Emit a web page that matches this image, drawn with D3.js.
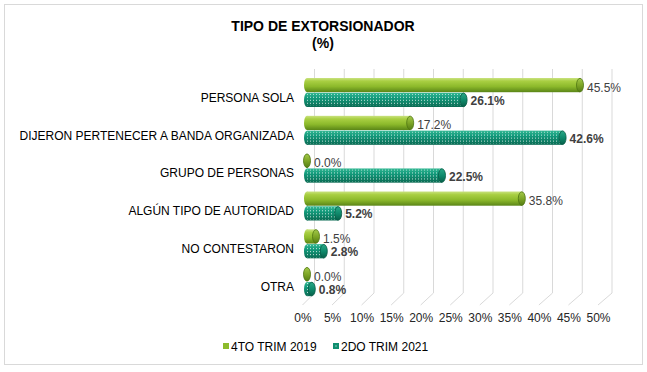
<!DOCTYPE html>
<html>
<head>
<meta charset="utf-8">
<script src="https://cdn.jsdelivr.net/npm/d3@7"></script>
<style>
  body { margin: 0; background: #fff; }
  text { font-family: "Liberation Sans", Arial, sans-serif; }
</style>
</head>
<body>
<svg id="chart" width="647" height="372"></svg>
<script>
// chart data
var categories = ["PERSONA SOLA", "DIJERON PERTENECER A BANDA ORGANIZADA", "GRUPO DE PERSONAS",
                  "ALGÚN TIPO DE AUTORIDAD", "NO CONTESTARON", "OTRA"];
var series = ["4TO TRIM 2019", "2DO TRIM 2021"];
var values2019 = [45.5, 17.2, 0.0, 35.8, 1.5, 0.0];
var values2021 = [26.1, 42.6, 22.5, 5.2, 2.8, 0.8];
var tickValues = [0, 5, 10, 15, 20, 25, 30, 35, 40, 45, 50];

var svg = d3.select("#chart");

// outer frame
svg.append("rect").attr("x", 4.5).attr("y", 4.5).attr("width", 638).attr("height", 360)
    .attr("fill", "#fff").attr("stroke", "#d9d9d9");

// title
svg.append("text").attr("x", 323).attr("y", 31).attr("text-anchor", "middle")
    .style("font-size", "14px").style("font-weight", "bold").text("TIPO DE EXTORSIONADOR");
svg.append("text").attr("x", 323).attr("y", 48).attr("text-anchor", "middle")
    .style("font-size", "14px").style("font-weight", "bold").text("(%)");

// scales: bars sit between the back wall and the front edge
var x = d3.scaleLinear().domain([0, 50]).range([307, 607]);
var xFront = d3.scaleLinear().domain([0, 50]).range([302.5, 598]);
var xBack = d3.scaleLinear().domain([0, 50]).range([314.5, 612]);
var y = d3.scaleBand().domain(categories).range([73.5, 300.5]);
var ySer = d3.scaleBand().domain(series).range([4.5, 33.5]).paddingInner(0.04);
var wallTop = 69, wallBottom = 293, frontY = 305;

// gradients / patterns
var defs = svg.append("defs");
function vGrad(id, stops) {
    var g = defs.append("linearGradient").attr("id", id)
        .attr("x1", 0).attr("y1", 0).attr("x2", 0).attr("y2", 1);
    stops.forEach(function(s) { g.append("stop").attr("offset", s[0]).attr("stop-color", s[1]); });
}
vGrad("gGreen", [["0%", "#c9e27f"], ["22%", "#a9cf42"], ["60%", "#8cb92b"], ["100%", "#5a8517"]]);
vGrad("gGreenCap", [["0%", "#a3c94a"], ["50%", "#7ea626"], ["100%", "#557d14"]]);
vGrad("gTeal", [["0%", "#34b894"], ["35%", "#139b7c"], ["100%", "#0a6b53"]]);
vGrad("gTealCap", [["0%", "#2aa887"], ["50%", "#0f8a6c"], ["100%", "#08604a"]]);

var pat = defs.append("pattern").attr("id", "dots").attr("patternUnits", "userSpaceOnUse")
    .attr("width", 3).attr("height", 3);
pat.append("rect").attr("x", 1).attr("y", 1).attr("width", 1).attr("height", 1)
    .attr("fill", "#ffffff").attr("opacity", 0.75);

// back wall gridlines + floor lines
var grid = svg.append("g");
tickValues.forEach(function(t) {
    grid.append("polyline")
        .attr("points", xBack(t) + "," + wallTop + " " + xBack(t) + "," + wallBottom + " " +
                        xFront(t) + "," + frontY)
        .attr("fill", "none").attr("stroke", "#d9d9d9").attr("stroke-width", 1);
});

// x axis tick labels
var xAxis = svg.append("g").attr("transform", "translate(0," + frontY + ")")
    .call(d3.axisBottom(xFront).tickValues(tickValues).tickSize(0).tickPadding(8)
        .tickFormat(function(d) { return d + "%"; }));
xAxis.select(".domain").remove();
xAxis.selectAll("text").style("font-size", "12px").attr("fill", "#262626")
    .style("font-family", "Liberation Sans, Arial, sans-serif");

// category labels
var yAxis = svg.append("g").attr("transform", "translate(294,5.5)")
    .call(d3.axisLeft(y).tickSize(0).tickPadding(0));
yAxis.select(".domain").remove();
yAxis.selectAll("text").style("font-size", "12px").attr("fill", "#000")
    .style("font-family", "Liberation Sans, Arial, sans-serif");

// build rows
var rows = [];
categories.forEach(function(c, i) {
    rows.push({cat: c, ser: series[0], v: values2019[i], k: 0});
    rows.push({cat: c, ser: series[1], v: values2021[i], k: 1});
});

var bars = svg.append("g").selectAll("g").data(rows).enter().append("g")
    .attr("transform", function(d) { return "translate(0," + (y(d.cat) + ySer(d.ser)) + ")"; });
var h = ySer.bandwidth();

// cylinder body
bars.append("ellipse").attr("cx", x(0)).attr("cy", h / 2).attr("rx", 3).attr("ry", h / 2)
    .attr("fill", function(d) { return d.k == 0 ? "url(#gGreen)" : "url(#gTeal)"; });
bars.append("rect").attr("x", x(0)).attr("y", 0)
    .attr("width", function(d) { return x(d.v) - x(0); }).attr("height", h)
    .attr("fill", function(d) { return d.k == 0 ? "url(#gGreen)" : "url(#gTeal)"; });
bars.filter(function(d) { return d.k == 1; }).append("rect")
    .attr("x", x(0) - 2).attr("y", 1)
    .attr("width", function(d) { return x(d.v) - x(0) + 2; }).attr("height", h - 2)
    .attr("fill", "url(#dots)");
// end cap
bars.append("ellipse").attr("cx", function(d) { return x(d.v); }).attr("cy", h / 2)
    .attr("rx", 3.5).attr("ry", h / 2 - 0.3)
    .attr("fill", function(d) { return d.k == 0 ? "url(#gGreenCap)" : "url(#gTealCap)"; })
    .attr("stroke", function(d) { return d.k == 0 ? "#4e7512" : "#075a45"; })
    .attr("stroke-width", 0.8);

// value labels
bars.append("text").attr("x", function(d) { return x(d.v) + 7; })
    .attr("y", function(d) { return d.k == 0 ? h / 2 + 6.5 : h / 2 + 5; })
    .style("font-size", "12px")
    .style("font-weight", function(d) { return d.k == 1 ? "bold" : "normal"; })
    .attr("fill", "#404040")
    .text(function(d) { return d.v.toFixed(1) + "%"; });

// legend
var legColors = ["#8cbb2c", "#0f8f70"];
var legX = [223, 333];
var leg = svg.append("g").selectAll("g").data(series).enter().append("g")
    .attr("transform", function(d, i) { return "translate(" + legX[i] + ",343)"; });
leg.append("rect").attr("width", 6).attr("height", 6)
    .attr("fill", function(d, i) { return legColors[i]; });
leg.filter(function(d, i) { return i == 1; }).append("rect")
    .attr("x", 2.5).attr("y", 2.5).attr("width", 1).attr("height", 1).attr("fill", "#fff");
leg.append("text").attr("x", 8).attr("y", 7.5).style("font-size", "12px").attr("fill", "#000")
    .text(function(d) { return d; });
</script>
</body>
</html>
